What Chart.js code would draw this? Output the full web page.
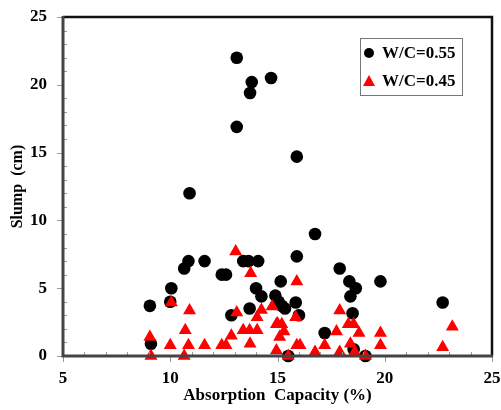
<!DOCTYPE html>
<html>
<head>
<meta charset="utf-8">
<script src="https://cdn.jsdelivr.net/npm/chart.js@4"></script>
<style>
  body { margin: 0; background: #fff; }
  #wrap { width: 501px; height: 410px; }
</style>
</head>
<body>
<div id="wrap"><canvas id="slump-chart"></canvas></div>
<script>
// Data
const seriesNames = ["W/C=0.55", "W/C=0.45"];

const absorption055 = [9.05, 9.1, 10.0, 10.05, 10.65, 10.85, 10.9, 11.6, 12.4, 12.6,
  12.85, 13.1, 13.1, 13.4, 13.65, 13.7, 13.72, 13.8, 14.0, 14.1,
  14.25, 14.7, 14.9, 15.05, 15.15, 15.2, 15.35, 15.5, 15.85, 15.9,
  15.9, 16.0, 16.75, 17.2, 17.9, 18.35, 18.4, 18.5, 18.55, 18.65,
  19.1, 19.8, 22.7];
const slump055 = [3.7, 0.9, 4.0, 5.0, 6.45, 7.0, 12.0, 7.0, 6.0, 6.0,
  3.0, 22.0, 16.9, 7.0, 7.0, 3.5, 19.4, 20.2, 5.0, 7.0,
  4.4, 20.5, 4.45, 4.0, 5.5, 3.7, 3.5, 0, 3.95, 7.35,
  14.7, 3.0, 9.0, 1.7, 6.45, 5.5, 4.4, 3.15, 0.5, 5.0,
  0, 5.5, 3.95];

const absorption045 = [9.05, 9.1, 10.0, 10.05, 10.65, 10.7, 10.85, 10.9, 11.6, 12.4,
  12.6, 12.85, 13.05, 13.1, 13.4, 13.7, 13.72, 13.75, 14.05, 14.05,
  14.25, 14.75, 14.95, 14.95, 15.0, 15.1, 15.2, 15.3, 15.5, 15.85,
  15.9, 15.9, 16.05, 16.75, 17.2, 17.75, 17.9, 17.9, 18.3, 18.4,
  18.55, 18.6, 18.8, 19.1, 19.8, 19.8, 22.7, 23.15];
const slump045 = [1.4, 0, 0.8, 3.95, 0, 1.9, 0.8, 3.35, 0.8, 0.8,
  0.8, 1.5, 7.7, 3.2, 1.9, 1.9, 0.9, 6.1, 1.9, 2.85,
  3.4, 3.65, 2.35, 0.4, 2.4, 1.4, 2.35, 1.8, 0, 2.85,
  5.5, 0.8, 0.8, 0.3, 0.8, 1.8, 3.35, 0.3, 2.35, 0.9,
  2.35, 0.3, 1.7, 0, 1.7, 0.8, 0.65, 2.15];

const xTickLabels = [5, 10, 15, 20, 25];
const yTickLabels = [0, 5, 10, 15, 20, 25];

const ctx = document.getElementById("slump-chart");
const serif = "'Liberation Serif', 'DejaVu Serif', serif";

function toPoints(xs, ys) {
  return xs.map((x, i) => ({ x: x, y: ys[i] }));
}

// box around the plot, major ticks outside, minor ticks inside
const frameAndTicks = {
  id: "frameAndTicks",
  afterDatasetsDraw(chart) {
    const c = chart.ctx;
    const a = chart.chartArea;
    const xs = chart.scales.x;
    const ys = chart.scales.y;
    c.save();
    c.strokeStyle = "#999";
    c.lineWidth = 1;
    xs.ticks.forEach((t) => {
      const px = Math.round(xs.getPixelForValue(t.value)) + 0.5;
      const major = xTickLabels.includes(t.value);
      c.beginPath();
      if (major) {
        c.moveTo(px, a.bottom);
        c.lineTo(px, a.bottom + 6);
      } else {
        c.moveTo(px, a.bottom);
        c.lineTo(px, a.bottom - 4);
      }
      c.stroke();
    });
    ys.ticks.forEach((t) => {
      const py = Math.round(ys.getPixelForValue(t.value)) + 0.5;
      const major = yTickLabels.includes(t.value);
      c.beginPath();
      if (major) {
        c.moveTo(a.left, py);
        c.lineTo(a.left - 6, py);
      } else {
        c.moveTo(a.left, py);
        c.lineTo(a.left + 4, py);
      }
      c.stroke();
    });
    // top and right edges
    c.strokeStyle = "#111";
    c.lineWidth = 2.5;
    c.beginPath();
    c.moveTo(a.left, a.top);
    c.lineTo(a.right, a.top);
    c.lineTo(a.right, a.bottom);
    c.stroke();
    // axis lines
    c.strokeStyle = "#444";
    c.lineWidth = 3;
    c.beginPath();
    c.moveTo(a.left, a.top - 1);
    c.lineTo(a.left, a.bottom);
    c.lineTo(a.right + 1, a.bottom);
    c.stroke();
    c.restore();
  },
};

// legend box inside the plot, top right
const insideLegend = {
  id: "insideLegend",
  afterDraw(chart) {
    const c = chart.ctx;
    const a = chart.chartArea;
    const bx = a.right - 132;
    const by = a.top + 21;
    const bw = 102;
    const bh = 57;
    c.save();
    c.fillStyle = "#fff";
    c.fillRect(bx, by, bw, bh);
    c.strokeStyle = "#777";
    c.lineWidth = 1;
    c.strokeRect(bx + 0.5, by + 0.5, bw, bh);
    c.font = "bold 17px " + serif;
    c.textBaseline = "middle";
    chart.data.datasets.forEach((ds, i) => {
      const cy = by + 15 + i * 28;
      const mx = bx + 9;
      c.fillStyle = ds.backgroundColor;
      c.beginPath();
      if (ds.pointStyle === "triangle") {
        c.moveTo(mx, cy - 6);
        c.lineTo(mx + 6, cy + 5);
        c.lineTo(mx - 6, cy + 5);
        c.closePath();
      } else {
        c.arc(mx, cy, 5, 0, Math.PI * 2);
      }
      c.fill();
      c.fillStyle = "#000";
      c.fillText(ds.label, bx + 22, cy + 1);
    });
    c.restore();
  },
};

function majorOnly(list) {
  return function (value) {
    return list.includes(value) ? String(value) : "";
  };
}

new Chart(ctx, {
  type: "scatter",
  data: {
    datasets: [
      {
        label: seriesNames[0],
        data: toPoints(absorption055, slump055),
        backgroundColor: "#000000",
        borderColor: "#000000",
        borderWidth: 0,
        pointStyle: "circle",
        pointRadius: 6.3,
        pointHoverRadius: 6.3,
        order: 2,
      },
      {
        label: seriesNames[1],
        data: toPoints(absorption045, slump045),
        backgroundColor: "#ff0000",
        borderColor: "#ff0000",
        borderWidth: 0,
        pointStyle: "triangle",
        pointRadius: 7.5,
        pointHoverRadius: 7.5,
        order: 1,
      },
    ],
  },
  options: {
    responsive: true,
    maintainAspectRatio: false,
    animation: false,
    clip: false,
    layout: { padding: { top: 17, right: 9, left: 0, bottom: 0 } },
    plugins: {
      legend: { display: false },
      tooltip: { enabled: false },
    },
    scales: {
      x: {
        type: "linear",
        min: 5,
        max: 25,
        grid: { display: false, drawTicks: false },
        border: { display: false },
        ticks: {
          stepSize: 1,
          autoSkip: false,
          maxRotation: 0,
          padding: 12,
          color: "#000",
          font: { family: serif, size: 17, weight: "bold" },
          callback: majorOnly(xTickLabels),
        },
        title: {
          display: true,
          text: "Absorption  Capacity (%)",
          color: "#000",
          font: { family: serif, size: 17, weight: "bold" },
          padding: { top: 0, bottom: 4 },
        },
        afterFit(scale) {
          scale.height = 54;
          scale.paddingLeft = 0;
          scale.paddingRight = 0;
        },
      },
      y: {
        type: "linear",
        min: 0,
        max: 25,
        grid: { display: false, drawTicks: false },
        border: { display: false },
        ticks: {
          stepSize: 1,
          autoSkip: false,
          padding: 16,
          color: "#000",
          font: { family: serif, size: 17, weight: "bold" },
          callback: majorOnly(yTickLabels),
        },
        title: {
          display: true,
          text: "Slump  (cm)",
          color: "#000",
          font: { family: serif, size: 16, weight: "bold" },
          padding: { top: 8, bottom: 0 },
        },
        afterFit(scale) {
          scale.width = 63;
          scale.paddingTop = 0;
          scale.paddingBottom = 0;
        },
      },
    },
  },
  plugins: [frameAndTicks, insideLegend],
});
</script>
</body>
</html>
